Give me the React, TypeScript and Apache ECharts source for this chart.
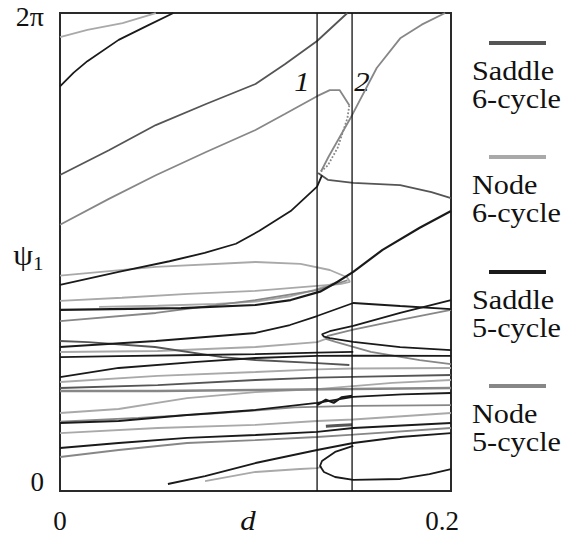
import React, { useEffect, useRef } from "react";
import * as echarts from "echarts";

const TWO_PI = 2 * Math.PI;
const FONT = "Liberation Serif";

// axis tick labels
const xTickLabels = ["0", "0.2"];
const yTickLabels = ["0", "2π"];
const xAxisName = "d";
const yAxisName = "ψ";
const yAxisSub = "1";

// bifurcation values of d (vertical lines) and their labels
const bifurcationD = [0.1315, 0.1494];
const bifurcationLabels = ["1", "2"];

// legend
const legendKinds = ["saddle6", "node6", "saddle5", "node5"];
const legendTexts = [
  ["Saddle", "6-cycle"],
  ["Node", "6-cycle"],
  ["Saddle", "5-cycle"],
  ["Node", "5-cycle"],
];
const kindColors: Record<string, string> = {
  saddle6: "#555555",
  node6: "#a9a9a9",
  saddle5: "#1a1a1a",
  node5: "#878787",
};

// ---- curves: [d, psi1] ----
const curveA = [[0, 5.967], [0.014, 6.06], [0.032, 6.15], [0.049, 6.283]];
const curveB = [[0, 5.32], [0.007, 5.5], [0.014, 5.65], [0.03, 5.93], [0.045, 6.12], [0.058, 6.283]];
const curveC = [[0, 4.153], [0.025, 4.48], [0.049, 4.81], [0.075, 5.09], [0.1, 5.35], [0.115, 5.61], [0.1315, 5.915], [0.147, 6.283]];
const curveD = [[0, 3.5], [0.025, 3.84], [0.049, 4.15], [0.075, 4.46], [0.1, 4.745], [0.115, 4.955], [0.1315, 5.19], [0.138, 5.27], [0.143, 5.27], [0.148, 5.07]];
const curveDFold = [[0.148, 5.07], [0.147, 4.9], [0.142, 4.51], [0.137, 4.28], [0.1335, 4.2]];
const curveF = [[0.1335, 4.2], [0.1375, 4.4], [0.1494, 4.94], [0.162, 5.56], [0.174, 5.95], [0.185, 6.13], [0.197, 6.283]];
const curveE = [[0.132, 4.18], [0.137, 4.09], [0.15, 4.05], [0.174, 4.02], [0.19, 3.93], [0.2, 3.85]];
const curveH = [[0, 2.71], [0.03, 2.88], [0.056, 3.02], [0.074, 3.13], [0.09, 3.25], [0.102, 3.42], [0.118, 3.68], [0.1315, 4.0], [0.134, 4.15]];
const curveG = [[0, 2.38], [0.062, 2.405], [0.1, 2.445], [0.118, 2.51], [0.133, 2.62], [0.142, 2.75], [0.15, 2.88], [0.165, 3.17], [0.184, 3.46], [0.2, 3.68]];
const curveG2 = [[0.02, 2.42], [0.05, 2.435], [0.08, 2.46], [0.1, 2.49], [0.118, 2.56], [0.13, 2.64], [0.14, 2.73]];
const foldF1 = [[0, 2.83], [0.014, 2.865], [0.049, 2.945], [0.1, 3.01], [0.123, 2.985], [0.138, 2.905], [0.1468, 2.81], [0.1483, 2.75], [0.1432, 2.72], [0.1315, 2.695], [0.1, 2.63], [0.0655, 2.59], [0.0317, 2.54], [0, 2.5]];
const curveF2 = [[0, 2.234], [0.049, 2.34], [0.1, 2.51], [0.1315, 2.64], [0.147, 2.77]];
const curveR1 = [[0, 1.893], [0.049, 1.972], [0.1, 2.077], [0.1176, 2.182], [0.1315, 2.3], [0.15, 2.471], [0.174, 2.432], [0.2, 2.392]];
const foldC1 = [[0.2, 2.51], [0.174, 2.34], [0.15, 2.17], [0.138, 2.1], [0.134, 2.06], [0.135, 2.03], [0.138, 2.01], [0.15, 1.96], [0.174, 1.89], [0.2, 1.853]];
const foldC2 = [[0.2, 2.38], [0.174, 2.25], [0.15, 2.12], [0.137, 2.04], [0.136, 2.0], [0.141, 1.96], [0.159, 1.83], [0.184, 1.72], [0.2, 1.669]];
const curveDsc = [[0, 1.972], [0.0143, 1.958], [0.0486, 1.893], [0.0829, 1.761], [0.1, 1.722], [0.1315, 1.682], [0.148, 1.656]];
const curveL352 = [[0, 1.827], [0.05, 1.84], [0.1, 1.893], [0.1315, 1.958], [0.136, 2.0]];
const curveL357 = [[0, 1.761], [0.03, 1.774], [0.07, 1.788], [0.1, 1.8], [0.1315, 1.82], [0.15, 1.83]];
const bandA = [[0, 1.498], [0.03, 1.617], [0.07, 1.696], [0.1, 1.748], [0.1315, 1.775], [0.15, 1.78], [0.2, 1.775]];
const bandB = [[0, 1.433], [0.05, 1.512], [0.1, 1.564], [0.1315, 1.6], [0.15, 1.61], [0.2, 1.617]];
const bandC = [[0, 1.354], [0.05, 1.393], [0.1, 1.459], [0.1315, 1.49], [0.15, 1.5], [0.2, 1.525]];
const bandD = [[0, 1.314], [0.05, 1.314], [0.1, 1.328], [0.15, 1.34], [0.2, 1.354]];
const bandE = [[0, 1.025], [0.03, 1.078], [0.065, 1.222], [0.1, 1.301], [0.1315, 1.34], [0.17, 1.42], [0.2, 1.459]];
const bandF = [[0, 0.894], [0.03, 0.92], [0.065, 0.999], [0.1, 1.065], [0.1315, 1.157], [0.15, 1.236], [0.175, 1.27], [0.2, 1.288]];
const bandF2 = [[0, 0.91], [0.04, 0.96], [0.08, 1.02], [0.12, 1.1], [0.15, 1.12], [0.2, 1.13]];
const bandG = [[0, 0.762], [0.05, 0.828], [0.1, 0.868], [0.1315, 0.92], [0.15, 0.94], [0.2, 1.025]];
const bandH = [[0, 0.565], [0.03, 0.631], [0.065, 0.697], [0.1, 0.736], [0.1315, 0.776], [0.15, 0.828], [0.2, 0.894]];
const bandI = [[0, 0.447], [0.03, 0.539], [0.065, 0.631], [0.1, 0.67], [0.1315, 0.71], [0.15, 0.74], [0.2, 0.828]];
const bandJ = [[0.0552, 0.092], [0.0742, 0.197], [0.1, 0.368], [0.1315, 0.539], [0.15, 0.631], [0.174, 0.71], [0.2, 0.762]];
const bandJ2 = [[0.0742, 0.131], [0.1, 0.25], [0.1228, 0.289], [0.1315, 0.3], [0.134, 0.32]];
const foldBottom = [[0.15, 0.592], [0.1407, 0.513], [0.134, 0.394], [0.133, 0.329], [0.135, 0.25], [0.1407, 0.184], [0.15, 0.145], [0.174, 0.158], [0.189, 0.223], [0.2, 0.289]];
const clusterKnot = [[0.1315, 1.13], [0.136, 1.2], [0.14, 1.16], [0.144, 1.23], [0.1494, 1.25]];
const clusterBar = [[0.136, 0.85], [0.142, 0.86], [0.1494, 0.87]];

const curves: { kind: string; data: number[][]; dotted?: boolean; width?: number }[] = [
  { kind: "node6", data: curveA },
  { kind: "node6", data: foldF1 },
  { kind: "node6", data: curveG2 },
  { kind: "node6", data: curveL352 },
  { kind: "node6", data: bandB },
  { kind: "node6", data: bandE },
  { kind: "node6", data: bandG },
  { kind: "node6", data: bandJ2 },
  { kind: "node5", data: curveD },
  { kind: "node5", data: curveDFold, dotted: true },
  { kind: "node5", data: curveF },
  { kind: "node5", data: curveF2 },
  { kind: "node5", data: foldC2 },
  { kind: "node5", data: bandD, width: 2.4 },
  { kind: "node5", data: bandF2 },
  { kind: "node5", data: bandI },
  { kind: "saddle6", data: curveC },
  { kind: "saddle6", data: curveE },
  { kind: "saddle6", data: curveDsc },
  { kind: "saddle6", data: bandC },
  { kind: "saddle6", data: clusterBar, width: 3 },
  { kind: "saddle5", data: curveB },
  { kind: "saddle5", data: curveH },
  { kind: "saddle5", data: curveG, width: 2.2 },
  { kind: "saddle5", data: curveR1 },
  { kind: "saddle5", data: foldC1 },
  { kind: "saddle5", data: curveL357 },
  { kind: "saddle5", data: bandA },
  { kind: "saddle5", data: bandF },
  { kind: "saddle5", data: bandH },
  { kind: "saddle5", data: bandJ },
  { kind: "saddle5", data: foldBottom },
  { kind: "saddle5", data: clusterKnot, width: 2.2 },
];

const legendLineY = [43, 157, 272, 386];

export default function App() {
  const ref = useRef<HTMLDivElement>(null);

  useEffect(() => {
    if (!ref.current) return;
    const chart = echarts.init(ref.current, undefined, { renderer: "svg" });

    const series: any[] = curves.map((c) => ({
      type: "line",
      data: c.data,
      showSymbol: false,
      symbol: "none",
      silent: true,
      lineStyle: {
        color: kindColors[c.kind],
        width: c.width ?? 1.8,
        type: c.dotted ? "dotted" : "solid",
      },
    }));

    bifurcationD.forEach((d) => {
      series.push({
        type: "line",
        data: [
          [d, 0],
          [d, TWO_PI],
        ],
        showSymbol: false,
        symbol: "none",
        silent: true,
        lineStyle: { color: "#111", width: 1.3 },
      });
    });

    const graphics: any[] = [];
    graphics.push({
      type: "text",
      x: 248,
      y: 520,
      scaleX: 1.1,
      style: { text: xAxisName, fontSize: 28, fontStyle: "italic", fontFamily: FONT, fill: "#111", align: "center", verticalAlign: "middle" },
    });
    graphics.push({
      type: "text",
      x: 23,
      y: 255,
      scaleX: 1.05,
      style: { text: yAxisName, fontSize: 30, fontFamily: FONT, fill: "#111", align: "center", verticalAlign: "middle" },
    });
    graphics.push({
      type: "text",
      x: 33,
      y: 263,
      scaleX: 1.1,
      style: { text: yAxisSub, fontSize: 19, fontFamily: FONT, fill: "#111", align: "left", verticalAlign: "middle" },
    });
    const bifX = [302, 362];
    bifurcationLabels.forEach((t, i) => {
      graphics.push({
        type: "text",
        x: bifX[i],
        y: 81,
        scaleX: 1.1,
        style: { text: t, fontSize: 28, fontStyle: "italic", fontFamily: FONT, fill: "#111", align: "center", verticalAlign: "middle" },
      });
    });
    legendKinds.forEach((k, i) => {
      const L = legendLineY[i];
      graphics.push({
        type: "line",
        shape: { x1: 489, y1: L, x2: 546, y2: L },
        style: { stroke: kindColors[k], lineWidth: 4 },
      });
      legendTexts[i].forEach((t, j) => {
        graphics.push({
          type: "text",
          x: 472,
          y: L + 28 + j * 28,
          scaleX: 1.12,
          style: { text: t, fontSize: 27, fontFamily: FONT, fill: "#111", align: "left", verticalAlign: "middle" },
        });
      });
    });

    const labelBase = { fontSize: 27, fontFamily: FONT, color: "#111" };

    chart.setOption({
      animation: false,
      backgroundColor: "#fff",
      grid: {
        left: 60,
        top: 13,
        right: 120,
        bottom: 45,
        show: true,
        borderColor: "#2a2a2a",
        borderWidth: 2,
        backgroundColor: "transparent",
      },
      xAxis: {
        type: "value",
        min: 0,
        max: 0.2,
        interval: 0.2,
        axisLine: { show: false },
        axisTick: { show: false },
        splitLine: { show: false },
        axisLabel: {
          margin: 16,
          showMinLabel: true,
          showMaxLabel: true,
          fontFamily: FONT,
          formatter: (v: number, idx: number) => (idx === 0 ? `{l|${xTickLabels[0]}}` : `{r|${xTickLabels[1]}}`),
          rich: {
            l: { ...labelBase },
            r: { ...labelBase, padding: [0, 18, 0, 0] },
          },
        },
      },
      yAxis: {
        type: "value",
        min: 0,
        max: TWO_PI,
        interval: TWO_PI,
        axisLine: { show: false },
        axisTick: { show: false },
        splitLine: { show: false },
        axisLabel: {
          margin: 16,
          showMinLabel: true,
          showMaxLabel: true,
          fontFamily: FONT,
          formatter: (v: number, idx: number) => (idx === 0 ? `{z|${yTickLabels[0]}}` : `{t|${yTickLabels[1]}}`),
          rich: {
            z: { ...labelBase, padding: [0, 0, 18, 0] },
            t: { ...labelBase, fontSize: 28, padding: [6, 0, 0, 0] },
          },
        },
      },
      graphic: graphics,
      series,
    });

    return () => {
      chart.dispose();
    };
  }, []);

  return (
    <div
      ref={ref}
      style={{ position: "fixed", left: 0, top: 0, width: 571, height: 536, background: "#fff" }}
    />
  );
}
